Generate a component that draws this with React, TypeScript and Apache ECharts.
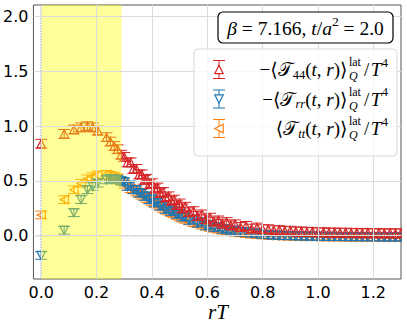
import React, { useEffect, useRef } from 'react';
import * as echarts from 'echarts';

// ---- data ----
const rT = [0, 0.083, 0.118, 0.144, 0.167, 0.186, 0.204, 0.236, 0.25, 0.264, 0.276, 0.289, 0.3, 0.312, 0.323, 0.333, 0.344, 0.354, 0.363, 0.373, 0.382, 0.391, 0.4, 0.41, 0.42, 0.43, 0.44, 0.45, 0.46, 0.47, 0.48, 0.49, 0.5, 0.51, 0.52, 0.535, 0.55, 0.565, 0.58, 0.595, 0.61, 0.625, 0.64, 0.655, 0.67, 0.685, 0.7, 0.72, 0.74, 0.76, 0.78, 0.8, 0.82, 0.84, 0.86, 0.88, 0.9, 0.92, 0.94, 0.96, 0.98, 1.0, 1.02, 1.04, 1.06, 1.08, 1.1, 1.12, 1.14, 1.16, 1.18, 1.2, 1.22, 1.24, 1.26, 1.28, 1.3];

const t44 = [0.84, 0.93, 0.97, 0.99, 1.0, 0.99, 0.96, 0.9, 0.86, 0.82, 0.79, 0.74, 0.72, 0.67, 0.67, 0.61, 0.61, 0.56, 0.56, 0.51, 0.52, 0.47, 0.48, 0.43, 0.44, 0.39, 0.4, 0.35, 0.36, 0.32, 0.33, 0.28, 0.295, 0.25, 0.265, 0.215, 0.225, 0.18, 0.195, 0.15, 0.165, 0.13, 0.14, 0.11, 0.125, 0.095, 0.105, 0.08, 0.09, 0.065, 0.075, 0.06, 0.06, 0.05, 0.052, 0.043, 0.046, 0.038, 0.04, 0.033, 0.036, 0.03, 0.033, 0.027, 0.031, 0.025, 0.029, 0.024, 0.027, 0.022, 0.026, 0.021, 0.025, 0.02, 0.024, 0.02, 0.023];

const trr = [-0.18, 0.05, 0.21, 0.33, 0.42, 0.45, 0.48, 0.51, 0.52, 0.52, 0.51, 0.5, 0.49, 0.45, 0.46, 0.42, 0.42, 0.39, 0.39, 0.36, 0.36, 0.33, 0.335, 0.3, 0.305, 0.27, 0.275, 0.24, 0.25, 0.22, 0.225, 0.195, 0.2, 0.17, 0.175, 0.14, 0.15, 0.115, 0.125, 0.09, 0.1, 0.075, 0.08, 0.058, 0.064, 0.045, 0.05, 0.033, 0.035, 0.022, 0.024, 0.011, 0.008, 0.005, 0.003, 0.001, 0, -0.002, -0.003, -0.004, -0.005, -0.006, -0.007, -0.008, -0.008, -0.009, -0.009, -0.01, -0.01, -0.01, -0.011, -0.011, -0.011, -0.012, -0.012, -0.012, -0.012];

const ttt = [0.19, 0.33, 0.42, 0.48, 0.52, 0.54, 0.555, 0.56, 0.55, 0.54, 0.525, 0.5, 0.47, 0.45, 0.43, 0.42, 0.4, 0.385, 0.37, 0.355, 0.34, 0.325, 0.31, 0.295, 0.28, 0.265, 0.25, 0.235, 0.225, 0.21, 0.2, 0.185, 0.17, 0.16, 0.15, 0.135, 0.12, 0.11, 0.097, 0.087, 0.077, 0.068, 0.06, 0.052, 0.045, 0.039, 0.033, 0.026, 0.02, 0.015, 0.011, 0.007, 0.004, 0.002, 0, -0.002, -0.003, -0.005, -0.006, -0.007, -0.008, -0.009, -0.01, -0.011, -0.011, -0.012, -0.012, -0.013, -0.013, -0.013, -0.014, -0.014, -0.014, -0.015, -0.015, -0.015, -0.015];

const errT44 = 0.04;
const errTrr = 0.035;
const errTtt = 0.035;

const xTicks = [0, 0.2, 0.4, 0.6, 0.8, 1.0, 1.2];
const yTicks = [0, 0.5, 1.0, 1.5, 2.0];
const bandRange = [0, 0.29];

const RED = '#d62728';
const BLUE = '#1f77b4';
const ORANGE = '#ff7f0e';
const SERIF = '"Liberation Serif", "DejaVu Serif", serif';

type Dir = 'up' | 'down' | 'left';

function tri(cx: number, cy: number, dir: Dir, h: number) {
  if (dir === 'up') return [[cx, cy - h], [cx - h, cy + h], [cx + h, cy + h]];
  if (dir === 'down') return [[cx, cy + h], [cx - h, cy - h], [cx + h, cy - h]];
  return [[cx - h, cy], [cx + h, cy - h], [cx + h, cy + h]];
}

function errSeries(name: string, ys: number[], err: number, color: string, dir: Dir, z: number) {
  return {
    type: 'custom',
    name,
    z,
    clip: true,
    silent: true,
    dimensions: ['x', 'y', 'e'],
    encode: { x: 0, y: 1 },
    data: rT.map((x, i) => [x, ys[i], err]),
    renderItem: (params: any, api: any) => {
      const x = api.value(0);
      const y = api.value(1);
      const e = api.value(2);
      const c = api.coord([x, y]);
      const t = api.coord([x, y + e]);
      const b = api.coord([x, y - e]);
      const cap = 6;
      const ls = { stroke: color, lineWidth: 1 };
      return {
        type: 'group',
        children: [
          { type: 'line', shape: { x1: c[0], y1: t[1], x2: c[0], y2: b[1] }, style: ls },
          { type: 'line', shape: { x1: c[0] - cap, y1: t[1], x2: c[0] + cap, y2: t[1] }, style: ls },
          { type: 'line', shape: { x1: c[0] - cap, y1: b[1], x2: c[0] + cap, y2: b[1] }, style: ls },
          { type: 'polygon', shape: { points: tri(c[0], c[1], dir, 4.2) }, style: { fill: 'none', stroke: color, lineWidth: 1.2 } },
        ],
      };
    },
  };
}

type Run = { t: string; s: number; i?: boolean; dy?: number; gap?: number; stack?: Run[] };

let measCtx: CanvasRenderingContext2D | null = null;
function fontOf(r: Run) {
  return `${r.i ? 'italic ' : ''}${r.s}px ${SERIF}`;
}
function width(r: Run) {
  if (!r.t) return r.gap || 0;
  if (!measCtx) measCtx = document.createElement('canvas').getContext('2d');
  measCtx!.font = fontOf(r);
  return measCtx!.measureText(r.t).width + (r.gap || 0);
}
function layout(runs: Run[], x: number, y: number, align: 'left' | 'center' | 'right', z = 20) {
  const ws = runs.map((r) => (r.stack ? Math.max(...r.stack.map(width)) : width(r)));
  const total = ws.reduce((a, b) => a + b, 0);
  let cx = align === 'right' ? x - total : align === 'center' ? x - total / 2 : x;
  const els: any[] = [];
  runs.forEach((r, k) => {
    const parts = r.stack ? r.stack : [r];
    parts.forEach((p) => {
      if (!p.t) return;
      els.push({
        type: 'text',
        z,
        x: cx,
        y: y + (p.dy || 0),
        style: { text: p.t, font: fontOf(p), fill: '#000', textAlign: 'left', textVerticalAlign: 'middle' },
      });
    });
    cx += ws[k];
  });
  return els;
}

function labelRuns(sub: Run, minus: boolean): Run[] {
  const S = 19;
  const s = 12.5;
  const runs: Run[] = [];
  if (minus) runs.push({ t: '\u2212', s: S });
  runs.push({ t: '\u27E8', s: S });
  runs.push({ t: '\uD835\uDCAF', s: S });
  runs.push(sub);
  runs.push({ t: '(', s: S });
  runs.push({ t: 't', s: S, i: true });
  runs.push({ t: ', ', s: S });
  runs.push({ t: 'r', s: S, i: true });
  runs.push({ t: ')\u27E9', s: S, gap: 1.5 });
  runs.push({ t: '', s: S, stack: [{ t: 'lat', s: 12, dy: -7.5 }, { t: 'Q', s: 12, i: true, dy: 6.5 }] });
  runs.push({ t: '', s: S, gap: 3 });
  runs.push({ t: '/', s: S, gap: 1.5 });
  runs.push({ t: 'T', s: S, i: true, gap: 0.5 });
  runs.push({ t: '4', s, dy: -7 });
  return runs;
}

function legendIcon(cx: number, cy: number, color: string, dir: Dir) {
  const ls = { stroke: color, lineWidth: 1 };
  return [
    { type: 'line', z: 20, shape: { x1: cx, y1: cy - 9, x2: cx, y2: cy + 9 }, style: ls },
    { type: 'line', z: 20, shape: { x1: cx - 6, y1: cy - 9, x2: cx + 6, y2: cy - 9 }, style: ls },
    { type: 'line', z: 20, shape: { x1: cx - 6, y1: cy + 9, x2: cx + 6, y2: cy + 9 }, style: ls },
    { type: 'polygon', z: 20, shape: { points: tri(cx, cy, dir, 4.2) }, style: { fill: '#fff', stroke: color, lineWidth: 1.2 } },
  ];
}

export default function App() {
  const ref = useRef<HTMLDivElement>(null);
  useEffect(() => {
    if (!ref.current) return;
    const chart = echarts.init(ref.current, undefined, { renderer: 'svg' });
    const rows = [69.5, 99, 128.5];
    const graphic: any[] = [
      { type: 'rect', z: 19, shape: { x: 218, y: 12, width: 175, height: 31, r: 5 }, style: { fill: '#fff', stroke: '#000', lineWidth: 1.2 } },
      ...layout(
        [
          { t: '\u03B2', s: 19.5, i: true },
          { t: ' = 7.166, ', s: 19.5 },
          { t: 't', s: 19.5, i: true },
          { t: '/', s: 19.5 },
          { t: 'a', s: 19.5, i: true },
          { t: '2', s: 13.5, dy: -7 },
          { t: ' = 2.0', s: 19.5 },
        ],
        305.5,
        28,
        'center'
      ),
      { type: 'rect', z: 18, shape: { x: 194, y: 49, width: 203, height: 107, r: 4 }, style: { fill: 'rgba(255,255,255,0.8)', stroke: '#d9d9d9', lineWidth: 1 } },
      ...legendIcon(219, rows[0], RED, 'up'),
      ...legendIcon(219, rows[1], BLUE, 'down'),
      ...legendIcon(219, rows[2], ORANGE, 'left'),
      ...layout(labelRuns({ t: '44', s: 12.5, dy: 5 }, true), 388, rows[0], 'right'),
      ...layout(labelRuns({ t: 'rr', s: 12.5, i: true, dy: 5 }, true), 388, rows[1], 'right'),
      ...layout(labelRuns({ t: 'tt', s: 12.5, i: true, dy: 5 }, false), 388, rows[2], 'right'),
      ...layout([{ t: 'r', s: 21, i: true }, { t: 'T', s: 21, i: true }], 218, 312, 'center'),
    ];

    const option: any = {
      animation: false,
      backgroundColor: '#fff',
      grid: { left: 33, right: 6, top: 5, bottom: 47, show: true, borderColor: '#555', borderWidth: 1, backgroundColor: 'transparent' },
      xAxis: {
        type: 'value',
        min: -0.028,
        max: 1.3,
        axisLine: { show: false },
        axisTick: { show: false },
        splitLine: { show: false },
        axisLabel: {
          customValues: xTicks,
          formatter: (v: number) => v.toFixed(1),
          fontSize: 16,
          fontFamily: 'DejaVu Sans',
          color: '#000',
          margin: 5,
        },
      },
      yAxis: {
        type: 'value',
        min: -0.395,
        max: 2.107,
        axisLine: { show: false },
        axisTick: { show: false },
        splitLine: { show: false },
        axisLabel: {
          customValues: yTicks,
          formatter: (v: number) => v.toFixed(1),
          fontSize: 16,
          fontFamily: 'DejaVu Sans',
          color: '#000',
          margin: 5,
        },
      },
      series: [
        {
          type: 'line',
          data: [],
          z: 1,
          silent: true,
          markLine: {
            silent: true,
            symbol: ['none', 'none'],
            label: { show: false },
            lineStyle: { color: '#dcdcdc', width: 1, type: 'solid' },
            data: [...xTicks.map((v) => ({ xAxis: v })), ...yTicks.map((v) => ({ yAxis: v }))],
          },
        },
        errSeries('Ttt', ttt, errTtt, ORANGE, 'left', 2),
        errSeries('Trr', trr, errTrr, BLUE, 'down', 2),
        errSeries('T44', t44, errT44, RED, 'up', 2),
        {
          type: 'custom',
          name: 'zero',
          z: 3,
          silent: true,
          clip: true,
          encode: { x: 0, y: 1 },
          data: [[0, 0]],
          renderItem: (params: any, api: any) => {
            const c = api.coord([api.value(0), api.value(1)]);
            const cs = params.coordSys;
            const st = { stroke: '#222', lineWidth: 1, lineDash: [1, 1.6] };
            return {
              type: 'group',
              children: [
                { type: 'line', shape: { x1: c[0], y1: cs.y, x2: c[0], y2: cs.y + cs.height }, style: st },
                { type: 'line', shape: { x1: cs.x, y1: c[1], x2: cs.x + cs.width, y2: c[1] }, style: st },
              ],
            };
          },
        },
        {
          type: 'custom',
          name: 'band',
          z: 4,
          silent: true,
          clip: true,
          encode: { x: [0, 1], y: 2 },
          data: [[bandRange[0], bandRange[1], 0]],
          renderItem: (params: any, api: any) => {
            const a = api.coord([api.value(0), 0]);
            const b = api.coord([api.value(1), 0]);
            const cs = params.coordSys;
            return {
              type: 'rect',
              shape: { x: a[0], y: cs.y, width: b[0] - a[0], height: cs.height },
              style: { fill: 'rgba(255,255,0,0.4)' },
            };
          },
        },
      ],
      graphic,
    };
    chart.setOption(option);
    return () => chart.dispose();
  }, []);
  return <div ref={ref} style={{ position: 'fixed', left: 0, top: 0, width: 407, height: 326 }} />;
}
